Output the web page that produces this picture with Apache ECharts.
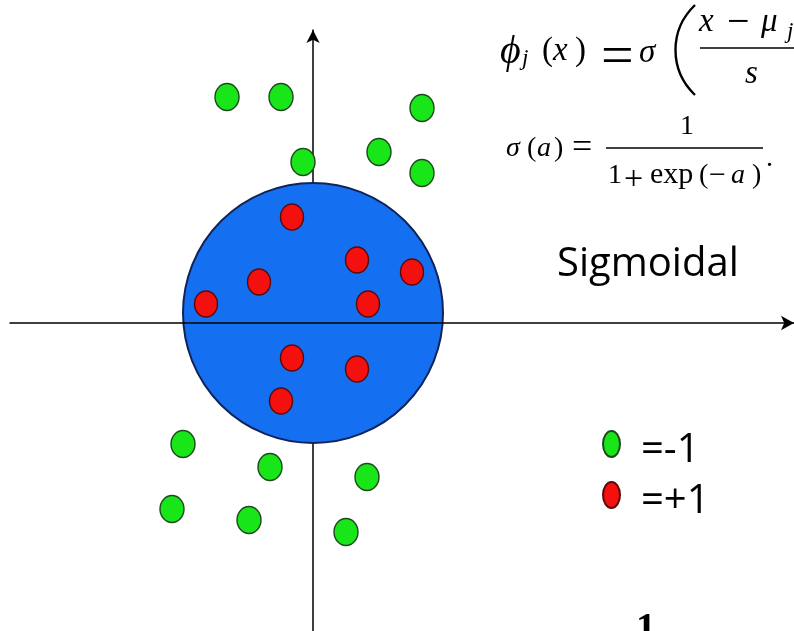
<!DOCTYPE html>
<html>
<head>
<meta charset="utf-8">
<script src="https://cdn.jsdelivr.net/npm/echarts@6/dist/echarts.min.js"></script>
<style>
html, body { margin: 0; padding: 0; background: #fff; }
#main { width: 794px; height: 631px; }
</style>
</head>
<body>
<div id="main"></div>
<script>
// point positions in axis units, origin where the two axes cross
var minusOne = [[-86, 226], [-32, 226], [109, 215], [-10, 161], [66, 171], [109, 150],
	[-130, -121], [-43, -144], [54, -154], [-141, -186], [-64, -197], [33, -209]];
var plusOne = [[-21, 106], [44, 63], [99, 51], [-54, 41], [-107, 19], [55, 19],
	[-21, -35], [44, -46], [-32, -78]];
var boundary = [[0, 10, 130]]; // cx, cy, radius
var classNames = ['=-1', '=+1'];

var chart = echarts.init(document.getElementById('main'));

var serif = '"Liberation Serif", "DejaVu Serif", serif';
// x = left of glyph, bl = baseline
function mt(x, bl, text, size, italic) {
	return {
		type: 'text', x: x, y: bl - 0.84 * size, z: 20,
		style: {
			text: text,
			font: (italic ? 'italic ' : '') + size + 'px ' + serif,
			fill: '#000',
			verticalAlign: 'top'
		}
	};
}
function bar(x1, x2, y) {
	return {
		type: 'line', z: 20,
		shape: {x1: x1, y1: y, x2: x2, y2: y},
		style: {stroke: '#000', lineWidth: 1.4}
	};
}

var formulas = [
	// phi_j(x) = sigma( (x - mu_j) / s )
	mt(500, 66, 'ϕ', 40, true),
	mt(522, 67, 'j', 23, true),
	mt(542, 63, '(', 33, false),
	mt(553, 63, 'x', 33, true),
	mt(575, 63, ')', 33, false),
	mt(601, 78, '=', 58, false),
	mt(639, 65, 'σ', 33, true),
	{
		type: 'bezierCurve', z: 20,
		shape: {x1: 695, y1: 5, cpx1: 669, cpy1: 30, cpx2: 669, cpy2: 70, x2: 695, y2: 95},
		style: {stroke: '#000', lineWidth: 2.4, fill: null}
	},
	mt(699, 34, 'x', 33, true),
	mt(727, 37, '−', 40, false),
	mt(761, 34, 'μ', 33, true),
	mt(787, 40, 'j', 23, true),
	bar(700, 794, 48),
	mt(745, 86, 's', 33, true),
	// sigma(a) = 1 / (1 + exp(-a)).
	mt(506, 158, 'σ', 28, true),
	mt(527, 158, '(', 28, false),
	mt(537, 158, 'a', 28, true),
	mt(554, 158, ')', 28, false),
	mt(572, 161, '=', 36, false),
	mt(680, 136, '1', 28, false),
	bar(606, 763, 148),
	mt(608, 185, '1', 28, false),
	mt(624, 192, '+', 34, false),
	mt(650, 185, 'exp', 30, false),
	mt(699, 185, '(', 28, false),
	mt(709, 186, '−', 30, false),
	mt(731, 185, 'a', 28, true),
	mt(752, 185, ')', 28, false),
	mt(766, 168, '.', 28, false),
	{
		type: 'text', x: 557, y: 245, z: 20,
		style: {text: 'Sigmoidal', font: '40px "Open Sans"', fill: '#000', verticalAlign: 'top'}
	},
	mt(636, 643, '1', 40, false)
];
formulas[formulas.length - 1].style.font = 'bold 40px ' + serif;

var ellipse = 'path://M0,13A8.5,13 0 1,0 17,13A8.5,13 0 1,0 0,13Z';

var option = {
	animation: false,
	backgroundColor: '#fff',
	grid: {left: 10, right: 0, top: 30, bottom: 0},
	xAxis: {
		type: 'value', min: -303, max: 481, z: 5,
		axisLine: {onZero: true, symbol: ['none', 'arrow'], symbolSize: [11, 13],
			lineStyle: {color: '#000', width: 1.5}},
		axisTick: {show: false}, axisLabel: {show: false}, splitLine: {show: false}
	},
	yAxis: {
		type: 'value', min: -308, max: 293, z: 0,
		axisLine: {onZero: true, symbol: ['none', 'arrow'], symbolSize: [10, 13],
			lineStyle: {color: '#000', width: 1.5}},
		axisTick: {show: false}, axisLabel: {show: false}, splitLine: {show: false}
	},
	legend: {
		orient: 'vertical', left: 597, top: 425,
		itemWidth: 17, itemHeight: 26, itemGap: 10,
		data: [{name: classNames[0], icon: ellipse}, {name: classNames[1], icon: ellipse}],
		formatter: '{t|{name}}',
		textStyle: {
			color: '#000',
			rich: {t: {fontFamily: 'Open Sans', fontSize: 40, color: '#000', padding: [14, 0, 0, 16]}}
		}
	},
	graphic: formulas,
	series: [{
		type: 'custom',
		z: 2,
		silent: true,
		renderItem: function (params, api) {
			var c = api.coord([api.value(0), api.value(1)]);
			var r = api.size([api.value(2), 0])[0];
			return {
				type: 'circle',
				shape: {cx: c[0], cy: c[1], r: r},
				style: {fill: '#1470f0', stroke: '#10245a', lineWidth: 2}
			};
		},
		data: boundary
	}, {
		name: classNames[0],
		type: 'scatter',
		z: 6,
		symbol: 'circle',
		symbolSize: [24, 27],
		itemStyle: {color: '#19e619', borderColor: '#1d4a1d', borderWidth: 1.5, opacity: 1},
		data: minusOne
	}, {
		name: classNames[1],
		type: 'scatter',
		z: 6,
		symbol: 'circle',
		symbolSize: [23, 26],
		itemStyle: {color: '#f51010', borderColor: '#5a0a0a', borderWidth: 1.5, opacity: 1},
		data: plusOne
	}]
};

chart.setOption(option);
</script>
</body>
</html>
